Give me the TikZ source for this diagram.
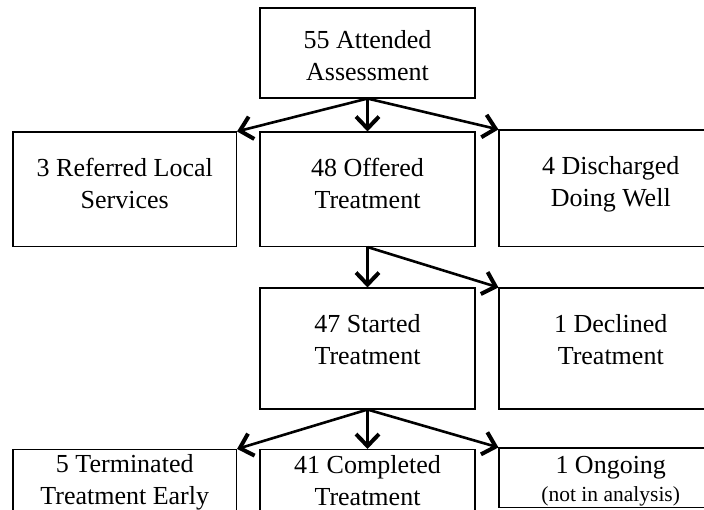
\documentclass[tikz,border=0pt]{standalone}
\usepackage{fontspec}
\setmainfont{Liberation Serif}
\usepackage{tikz}
\usetikzlibrary{arrows.meta}
\definecolor{boxdraw}{HTML}{000000}
\definecolor{textcolor}{HTML}{000000}
\tikzset{
  flow box/.style={
    draw=boxdraw,
    line width=1.1pt,
    inner sep=0pt
  },
  wide box/.style={
    flow box,
    minimum width=223.5pt
  },
  narrow box/.style={
    flow box,
    minimum width=215pt
  },
  box text/.style={
    inner sep=0pt,
    align=center,
    text=textcolor,
    font=\fontsize{26}{32}\selectfont
  },
  flow/.style={
    draw=boxdraw,
    line width=2.6pt,
    -{Straight Barb[length=12pt,width=23pt,line width=4pt]}
  }
}
\newcommand{\notesize}{\fontsize{21.5}{26}\selectfont}
\newcommand{\branchfrom}[2]{%
  \foreach \t in {#2}{
    \draw[flow] (#1.south) -- (\t);
  }
}

\begin{document}
\begin{tikzpicture}[x=1pt,y=-1pt]
  \useasboundingbox (0,0) rectangle (704,509);
  \clip (0,0) rectangle (704,509);

  \node[narrow box,minimum height=90pt] (assess) at (367.5,53.0) {};
  \node[wide box,minimum height=114.5pt] (refer) at (124.75,189.25) {};
  \node[narrow box,minimum height=114.5pt] (offer) at (367.5,189.25) {};
  \node[wide box,minimum height=116.5pt] (discharge) at (610.75,188.25) {};
  \node[narrow box,minimum height=121pt] (start) at (367.5,348.5) {};
  \node[wide box,minimum height=121pt] (decline) at (610.75,348.5) {};
  \node[wide box,minimum height=120pt] (terminate) at (124.75,509.5) {};
  \node[narrow box,minimum height=120pt] (complete) at (367.5,509.5) {};
  \node[wide box,minimum height=59.5pt] (ongoing) at (610.75,477.75) {};

  \node[box text] (assess-t) at (367.5,56) {55 Attended\\Assessment};
  \node[box text] (refer-t) at (124.75,183) {3 Referred Local\\Services};
  \node[box text] (offer-t) at (367.5,183) {48 Offered\\Treatment};
  \node[box text] (discharge-t) at (610.75,184) {4 Discharged\\Doing Well};
  \node[box text] (start-t) at (367.5,340) {47 Started\\Treatment};
  \node[box text] (decline-t) at (610.75,340) {1 Declined\\Treatment};
  \node[box text] (terminate-t) at (124.75,482) {5 Terminated\\Treatment Early};
  \node[box text] (complete-t) at (367.5,481) {41 Completed\\Treatment};
  \node[box text] (ongoing-t) at (610.75,481)
    {1 Ongoing\\[-4pt]{\notesize(not in analysis)}};

  \branchfrom{assess}{refer.north east,offer.north,discharge.north west}
  \branchfrom{offer}{start.north,decline.north west}
  \branchfrom{start}{terminate.north east,complete.north,ongoing.north west}
\end{tikzpicture}
\end{document}
